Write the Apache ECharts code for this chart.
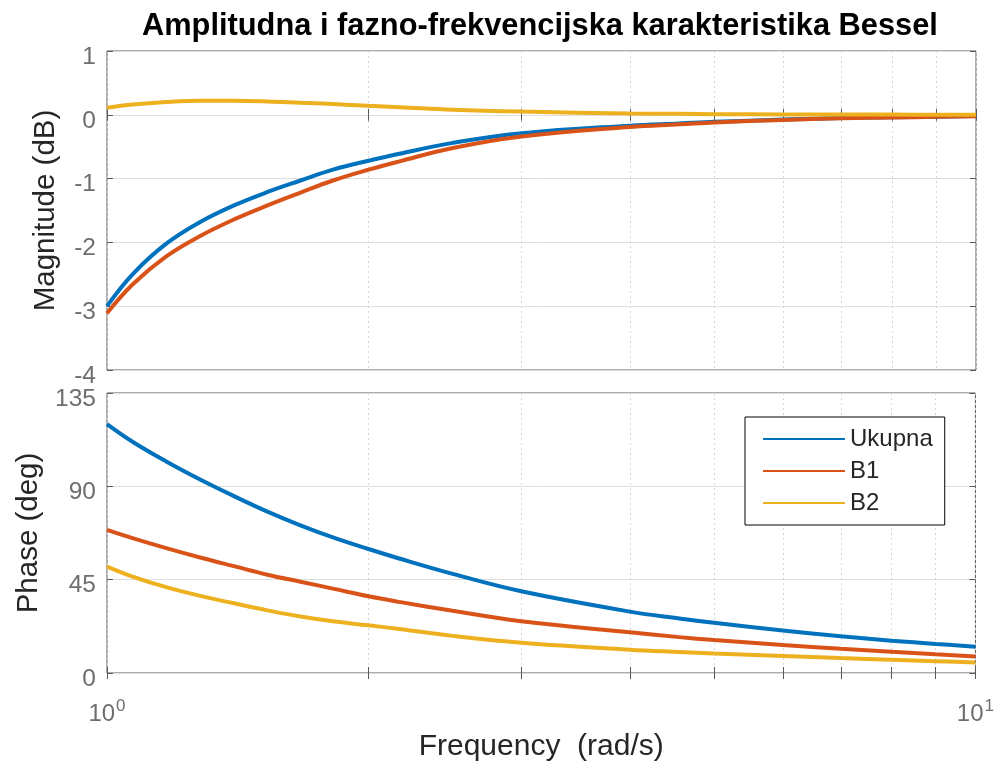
<!DOCTYPE html>
<html>
<head>
<meta charset="utf-8">
<script src="https://cdn.jsdelivr.net/npm/echarts@6/dist/echarts.min.js"></script>
<style>
  html, body { margin: 0; padding: 0; background: #fff; }
  #chart { width: 997px; height: 764px; }
</style>
</head>
<body>
<div id="chart"></div>
<script>
// frequencies (rad/s)
var freq = [1, 1.07, 1.17, 1.28, 1.4, 1.53, 1.67, 1.82, 2, 2.17, 2.5, 3, 4, 4.56, 5, 6, 7, 8, 9, 10];

// magnitude (dB)
var magUkupna = [-3.0, -2.5, -2.02, -1.68, -1.42, -1.21, -1.03, -0.86, -0.72, -0.61, -0.44, -0.29, -0.17, -0.135, -0.11, -0.075, -0.05, -0.04, -0.03, -0.02];
var magB1 = [-3.11, -2.66, -2.22, -1.9, -1.64, -1.42, -1.22, -1.03, -0.86, -0.73, -0.52, -0.34, -0.19, -0.15, -0.12, -0.081, -0.054, -0.043, -0.032, -0.021];
var magB2 = [0.11, 0.16, 0.2, 0.22, 0.22, 0.21, 0.19, 0.17, 0.14, 0.12, 0.08, 0.05, 0.02, 0.015, 0.01, 0.006, 0.004, 0.003, 0.002, 0.001];

// phase (deg)
var phUkupna = [120, 111.5, 102, 93.3, 85.3, 77.8, 71.2, 65.4, 59.8, 55.2, 47.8, 39.4, 29.6, 26.3, 24.2, 20.5, 17.7, 15.6, 14.0, 12.7];
var phB1 = [69, 65, 60.2, 55.7, 51.5, 47.4, 44, 40.7, 37, 34.3, 30.0, 24.9, 19.6, 17.3, 15.9, 13.5, 11.7, 10.3, 9.0, 7.9];
var phB2 = [51.3, 46.5, 41.4, 37.2, 33.6, 30.2, 27.2, 24.9, 23, 21.2, 17.9, 14.6, 11.2, 10.1, 9.4, 8.2, 7.2, 6.4, 5.7, 5.1];

var seriesNames = ['Ukupna', 'B1', 'B2'];
var colors = ['#0072BD', '#D95319', '#EDB120'];

// tick positions for the log axis
var xTicks = [1, 2, 3, 4, 5, 6, 7, 8, 9, 10];
var xLabelTicks = [1, 10];
var magTicks = { min: -4, max: 1, interval: 1 };
var phTicks = { min: 0, max: 135, interval: 45 };

var FONT = 'Liberation Sans, Arial, sans-serif';
var tickColor = '#6e6e6e';
var boxColor = '#5a5a5a';

function pairs(ys) {
    return freq.map(function (f, i) { return [f, ys[i]]; });
}

function makeX(gridIndex, position, showLabels) {
    return {
        type: 'log',
        logBase: 10,
        gridIndex: gridIndex,
        position: position,
        min: 1,
        max: 10,
        axisLine: { show: false },
        axisTick: {
            show: true, inside: true, length: 6,
            customValues: xTicks,
            lineStyle: { color: boxColor, width: 1 }
        },
        axisLabel: {
            show: showLabels,
            customValues: xLabelTicks,
            margin: 25,
            color: tickColor,
            fontFamily: FONT,
            formatter: function (v) {
                return '{b|10}{s|' + Math.round(Math.log10(v)) + '}';
            },
            rich: {
                b: { fontSize: 24, fontFamily: FONT, color: tickColor },
                s: { fontSize: 17, fontFamily: FONT, color: tickColor, padding: [0, 0, 15, 1] }
            }
        },
        splitLine: {
            show: position === 'bottom',
            lineStyle: { color: '#d6d6d6', type: [2, 3], width: 1 }
        }
    };
}

function makeY(gridIndex, position, ticks, name, nameGap) {
    return {
        type: 'value',
        gridIndex: gridIndex,
        position: position,
        min: ticks.min,
        max: ticks.max,
        interval: ticks.interval,
        name: position === 'left' ? name : '',
        nameLocation: 'middle',
        nameGap: nameGap,
        nameTextStyle: { fontSize: 29.5, fontFamily: FONT, color: '#262626' },
        axisLine: { show: false },
        axisTick: { show: true, inside: true, length: 6, lineStyle: { color: boxColor } },
        axisLabel: {
            show: position === 'left',
            fontSize: 24.5,
            fontFamily: FONT,
            color: tickColor,
            margin: 11,
            verticalAlign: 'top',
            lineHeight: 12
        },
        splitLine: {
            show: position === 'left',
            lineStyle: { color: '#dedede', width: 1 }
        }
    };
}

var dom = document.getElementById('chart');
var myChart = echarts.init(dom, null, { renderer: 'canvas' });

var series = [];
var magData = [magUkupna, magB1, magB2];
var phData = [phUkupna, phB1, phB2];
for (var i = 0; i < 3; i++) {
    series.push({
        name: seriesNames[i], type: 'line', xAxisIndex: 0, yAxisIndex: 0,
        data: pairs(magData[i]), showSymbol: false, smooth: 0.4,
        lineStyle: { width: 4, color: colors[i] }, itemStyle: { color: colors[i] },
        z: 3 + i
    });
}
for (var j = 0; j < 3; j++) {
    series.push({
        name: seriesNames[j], type: 'line', xAxisIndex: 2, yAxisIndex: 2,
        data: pairs(phData[j]), showSymbol: false, smooth: 0.4,
        lineStyle: { width: 4, color: colors[j] }, itemStyle: { color: colors[j] },
        z: 3 + j
    });
}

var option = {
    animation: false,
    backgroundColor: '#fff',
    title: {
        text: 'Amplitudna i fazno-frekvencijska karakteristika Bessel',
        left: 137,
        top: 6,
        textStyle: { fontSize: 30.8, fontWeight: 'bold', fontFamily: FONT, color: '#000' }
    },
    legend: {
        data: seriesNames.map(function (n) { return { name: n, icon: 'rect' }; }),
        orient: 'vertical',
        left: 745,
        top: 417,
        padding: [8, 12, 8, 18],
        itemGap: 4,
        itemWidth: 82,
        itemHeight: 2,
        itemTextGap: 15,
        backgroundColor: '#fff',
        borderColor: '#000',
        borderWidth: 1,
        borderRadius: 0,
        textStyle: { fontSize: 24, fontFamily: FONT, color: '#262626', lineHeight: 28 }
    },
    grid: [
        { left: 107, top: 51, width: 869, height: 319, show: true, borderColor: boxColor, borderWidth: 1, backgroundColor: 'transparent' },
        { left: 107, top: 393, width: 869, height: 280, show: true, borderColor: boxColor, borderWidth: 1, backgroundColor: 'transparent' }
    ],
    xAxis: [
        makeX(0, 'bottom', false),
        makeX(0, 'top', false),
        Object.assign(makeX(1, 'bottom', true), {
            name: 'Frequency  (rad/s)',
            nameLocation: 'middle',
            nameGap: 59,
            nameTextStyle: { fontSize: 30, fontFamily: FONT, color: '#262626' }
        }),
        makeX(1, 'top', false)
    ],
    yAxis: [
        makeY(0, 'left', magTicks, 'Magnitude (dB)', 46),
        makeY(0, 'right', magTicks, '', 0),
        makeY(1, 'left', phTicks, 'Phase (deg)', 63),
        makeY(1, 'right', phTicks, '', 0)
    ],
    series: series
};

myChart.setOption(option);
window.addEventListener('resize', myChart.resize);
</script>
</body>
</html>
